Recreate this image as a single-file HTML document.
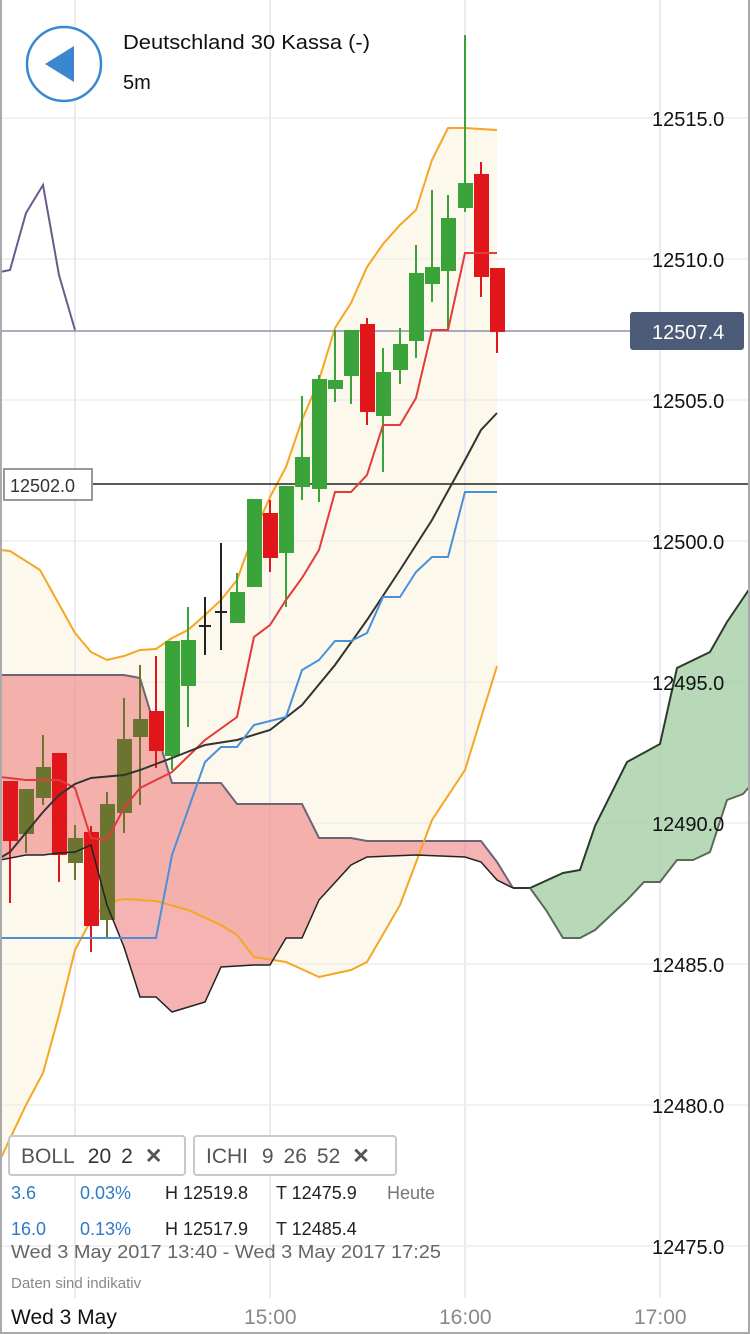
<!DOCTYPE html>
<html><head><meta charset="utf-8"><style>
html,body{margin:0;padding:0;background:#fff}
svg{display:block}
text{font-family:"Liberation Sans",Arial,sans-serif}
</style></head><body>
<svg width="750" height="1334" viewBox="0 0 750 1334" xmlns="http://www.w3.org/2000/svg">
<rect width="750" height="1334" fill="#fff"/>
<polygon fill="#fdf8ec" points="0,550 10,551 40,570 75,633 91,652 107,660 124,656 140,650 156,649 172,638 188,630 205,615 221,600 237,580 254,533 270,497 286,467 302,420 319,380 335,328 351,303 367,267 383,244 400,225 416,210 432,160 448,128 465,128 481,129 497,130 497,666 465,770 432,820 400,905 367,962 351,970 319,977 286,962 254,957 237,935 221,925 188,910 156,901 124,899 107,903 91,920 75,950 59,1015 43,1073 26,1105 0,1160"/>
<g stroke="#ebe9f2" stroke-width="2">
<line x1="75" y1="0" x2="75" y2="1300"/><line x1="270" y1="0" x2="270" y2="1300"/><line x1="465" y1="0" x2="465" y2="1300"/><line x1="660" y1="0" x2="660" y2="1300"/>
</g>
<g stroke="#eeeeee" stroke-width="1.5">
<line x1="0" y1="118" x2="750" y2="118"/><line x1="0" y1="259" x2="750" y2="259"/><line x1="0" y1="400" x2="750" y2="400"/><line x1="0" y1="541" x2="750" y2="541"/><line x1="0" y1="682" x2="750" y2="682"/><line x1="0" y1="823" x2="750" y2="823"/><line x1="0" y1="964" x2="750" y2="964"/><line x1="0" y1="1105" x2="750" y2="1105"/><line x1="0" y1="1246" x2="750" y2="1246"/>
</g>
<polygon fill="#f08a8a" fill-opacity="0.65" points="0,675 124,675 140,678 172,783 221,783 237,804 302,804 319,838 351,838 367,841 481,841 497,862 513,888 497,880 481,862 465,857 416,855 367,857 351,865 319,900 302,938 286,938 270,965 254,965 221,967 205,1002 172,1012 156,997 140,997 124,947 107,905 91,845 75,852 59,853 43,855 26,855 0,860"/>
<polyline fill="none" stroke="#6e6478" stroke-width="2" points="0,675 124,675 140,678 172,783 221,783 237,804 302,804 319,838 351,838 367,841 481,841 497,862 513,888"/>
<polygon fill="#a5cfa5" fill-opacity="0.8" points="513,888 530,888 563,873 580,870 595,826 627,762 660,744 677,668 710,652 727,622 750,588 750,786 743,794 727,800 710,852 693,860 677,860 660,882 644,882 627,900 595,930 580,938 563,938 546,910 530,888"/>
<polyline fill="none" stroke="#2e3a2e" stroke-width="2" points="513,888 530,888 563,873 580,870 595,826 627,762 660,744 677,668 710,652 727,622 750,588"/>
<polyline fill="none" stroke="#5a6a5a" stroke-width="2" points="530,888 546,910 563,938 580,938 595,930 627,900 644,882 660,882 677,860 693,860 710,852 727,800 743,794 750,786"/>
<polyline fill="none" stroke="#f5a623" stroke-width="2" points="0,550 10,551 40,570 75,633 91,652 107,660 124,656 140,650 156,649 172,638 188,630 205,615 221,600 237,580 254,533 270,497 286,467 302,420 319,380 335,328 351,303 367,267 383,244 400,225 416,210 432,160 448,128 465,128 481,129 497,130"/>
<polyline fill="none" stroke="#f5a623" stroke-width="2" points="0,1160 26,1105 43,1073 59,1015 75,950 91,920 107,903 124,899 156,901 188,910 221,925 237,935 254,957 286,962 319,977 351,970 367,962 400,905 432,820 465,770 497,666"/>
<line x1="0" y1="331" x2="630" y2="331" stroke="#8a93ab" stroke-width="1.5"/>
<line x1="92" y1="484" x2="750" y2="484" stroke="#222" stroke-width="1.5"/>
<g stroke-width="2">
<g stroke="#e0161b" fill="#e0161b">
<line x1="10" y1="782" x2="10" y2="903"/><rect x="4" y="782" width="13" height="58"/>
<line x1="59" y1="754" x2="59" y2="882"/><rect x="53" y="754" width="13" height="100"/>
<line x1="91" y1="826" x2="91" y2="952"/><rect x="85" y="833" width="13" height="92"/>
<line x1="156" y1="656" x2="156" y2="768"/><rect x="150" y="712" width="13" height="38"/>
<line x1="270" y1="500" x2="270" y2="572"/><rect x="264" y="514" width="13" height="43"/>
<line x1="367" y1="318" x2="367" y2="425"/><rect x="361" y="325" width="13" height="86"/>
<line x1="481" y1="162" x2="481" y2="297"/><rect x="475" y="175" width="13" height="101"/>
<line x1="497" y1="269" x2="497" y2="353"/><rect x="491" y="269" width="13" height="62"/>
</g>
<g stroke="#6b7530" fill="#6b7530">
<line x1="26" y1="790" x2="26" y2="853"/><rect x="20" y="790" width="13" height="43"/>
<line x1="43" y1="735" x2="43" y2="805"/><rect x="37" y="768" width="13" height="29"/>
<line x1="75" y1="825" x2="75" y2="880"/><rect x="69" y="839" width="13" height="23"/>
<line x1="107" y1="792" x2="107" y2="937"/><rect x="101" y="805" width="13" height="114"/>
<line x1="124" y1="698" x2="124" y2="833"/><rect x="118" y="740" width="13" height="72"/>
<line x1="140" y1="665" x2="140" y2="805"/><rect x="134" y="720" width="13" height="16"/>
</g>
<g stroke="#3aa33a" fill="#3aa33a">
<line x1="172" y1="642" x2="172" y2="770"/><rect x="166" y="642" width="13" height="113"/>
<line x1="188" y1="607" x2="188" y2="727"/><rect x="182" y="641" width="13" height="44"/>
<line x1="237" y1="573" x2="237" y2="622"/><rect x="231" y="593" width="13" height="29"/>
<line x1="254" y1="500" x2="254" y2="586"/><rect x="248" y="500" width="13" height="86"/>
<line x1="286" y1="487" x2="286" y2="607"/><rect x="280" y="487" width="13" height="65"/>
<line x1="302" y1="396" x2="302" y2="500"/><rect x="296" y="458" width="13" height="28"/>
<line x1="319" y1="375" x2="319" y2="502"/><rect x="313" y="380" width="13" height="108"/>
<line x1="335" y1="330" x2="335" y2="402"/><rect x="329" y="381" width="13" height="7"/>
<line x1="351" y1="330" x2="351" y2="404"/><rect x="345" y="331" width="13" height="44"/>
<line x1="383" y1="348" x2="383" y2="472"/><rect x="377" y="373" width="13" height="42"/>
<line x1="400" y1="328" x2="400" y2="384"/><rect x="394" y="345" width="13" height="24"/>
<line x1="416" y1="245" x2="416" y2="358"/><rect x="410" y="274" width="13" height="66"/>
<line x1="432" y1="190" x2="432" y2="302"/><rect x="426" y="268" width="13" height="15"/>
<line x1="448" y1="195" x2="448" y2="330"/><rect x="442" y="219" width="13" height="51"/>
<line x1="465" y1="35" x2="465" y2="212"/><rect x="459" y="184" width="13" height="23"/>
</g>
<g stroke="#222">
<line x1="205" y1="597" x2="205" y2="655"/><line x1="199" y1="626" x2="211" y2="626"/>
<line x1="221" y1="543" x2="221" y2="650"/><line x1="215" y1="612" x2="227" y2="612"/>
</g>
</g>
<polyline fill="none" stroke="#e33a3a" stroke-width="2" points="0,777 26,780 59,780 75,788 91,838 107,840 124,808 140,788 172,772 205,740 237,717 254,637 270,625 286,600 302,578 319,550 335,492 351,492 367,475 383,425 400,425 416,398 432,330 448,330 465,253 481,253 497,253"/>
<polyline fill="none" stroke="#333" stroke-width="2" points="0,858 10,852 43,812 59,795 75,784 91,778 124,775 140,770 156,764 172,758 205,745 237,740 270,730 302,705 335,665 367,620 400,570 432,520 465,460 481,430 497,413"/>
<polyline fill="none" stroke="#222" stroke-width="1.5" points="0,860 26,855 43,855 59,853 75,852 91,845 107,905 124,947 140,997 156,997 172,1012 205,1002 221,967 254,965 270,965 286,938 302,938 319,900 351,865 367,857 416,855 465,857 481,862 497,880 513,888"/>
<polyline fill="none" stroke="#4a90d9" stroke-width="2" points="0,938 156,938 172,855 205,762 221,747 237,747 254,725 286,717 302,670 319,660 335,641 351,641 367,633 383,597 400,597 416,572 432,557 448,557 465,492 497,492"/>
<polyline fill="none" stroke="#6a5a8a" stroke-width="2" points="0,272 10,270 26,213 43,185 59,275 75,330"/>
<g font-size="20" fill="#111">
<text x="652" y="126">12515.0</text><text x="652" y="267">12510.0</text><text x="652" y="408">12505.0</text><text x="652" y="549">12500.0</text><text x="652" y="690">12495.0</text><text x="652" y="831">12490.0</text><text x="652" y="972">12485.0</text><text x="652" y="1113">12480.0</text><text x="652" y="1254">12475.0</text>
</g>
<rect x="630" y="312" width="114" height="38" rx="3" fill="#4c5b78"/>
<text x="652" y="339" font-size="20" fill="#fff">12507.4</text>
<rect x="4" y="469" width="88" height="31" fill="#fff" stroke="#999" stroke-width="2"/>
<text x="10" y="492" font-size="18" fill="#333">12502.0</text>
<circle cx="64" cy="64" r="37" fill="#fff" stroke="#3a87d0" stroke-width="2.5"/>
<polygon points="45,64 74,46 74,82" fill="#3a87d0"/>
<text x="123" y="49" font-size="20" fill="#111" textLength="247" lengthAdjust="spacingAndGlyphs">Deutschland 30 Kassa (-)</text>
<text x="123" y="89" font-size="20" fill="#111">5m</text>
<rect x="9" y="1136" width="176" height="39" rx="3" fill="#fff" stroke="#c8c8c8" stroke-width="2"/>
<text x="21" y="1163" font-size="21" fill="#555">BOLL <tspan fill="#333" dx="8">20</tspan><tspan fill="#333" dx="10">2</tspan><tspan fill="#555" font-weight="bold" dx="12">✕</tspan></text>
<rect x="194" y="1136" width="202" height="39" rx="3" fill="#fff" stroke="#c8c8c8" stroke-width="2"/>
<text x="206" y="1163" font-size="21" fill="#555">ICHI <tspan dx="8">9</tspan><tspan dx="10">26</tspan><tspan dx="10">52</tspan><tspan font-weight="bold" dx="12">✕</tspan></text>
<g font-size="18">
<text x="11" y="1199" fill="#2e7bc4">3.6</text><text x="80" y="1199" fill="#2e7bc4">0.03%</text>
<text x="165" y="1199" fill="#222">H 12519.8</text><text x="276" y="1199" fill="#222">T 12475.9</text><text x="387" y="1199" fill="#777">Heute</text>
<text x="11" y="1235" fill="#2e7bc4">16.0</text><text x="80" y="1235" fill="#2e7bc4">0.13%</text>
<text x="165" y="1235" fill="#222">H 12517.9</text><text x="276" y="1235" fill="#222">T 12485.4</text>
<text x="11" y="1258" fill="#666" textLength="430" lengthAdjust="spacingAndGlyphs">Wed 3 May 2017 13:40 - Wed 3 May 2017 17:25</text>
</g>
<text x="11" y="1288" font-size="15" fill="#888">Daten sind indikativ</text>
<rect x="0" y="1298" width="750" height="36" fill="#fff"/>
<text x="11" y="1324" font-size="21" fill="#111">Wed 3 May</text>
<text x="244" y="1324" font-size="21" fill="#888">15:00</text>
<text x="439" y="1324" font-size="21" fill="#888">16:00</text>
<text x="634" y="1324" font-size="21" fill="#888">17:00</text>
<rect x="0" y="0" width="2" height="1334" fill="#aaa"/>
<rect x="748" y="0" width="2" height="1334" fill="#aaa"/>
<rect x="0" y="1332" width="750" height="2" fill="#aaa"/>
</svg>
</body></html>
